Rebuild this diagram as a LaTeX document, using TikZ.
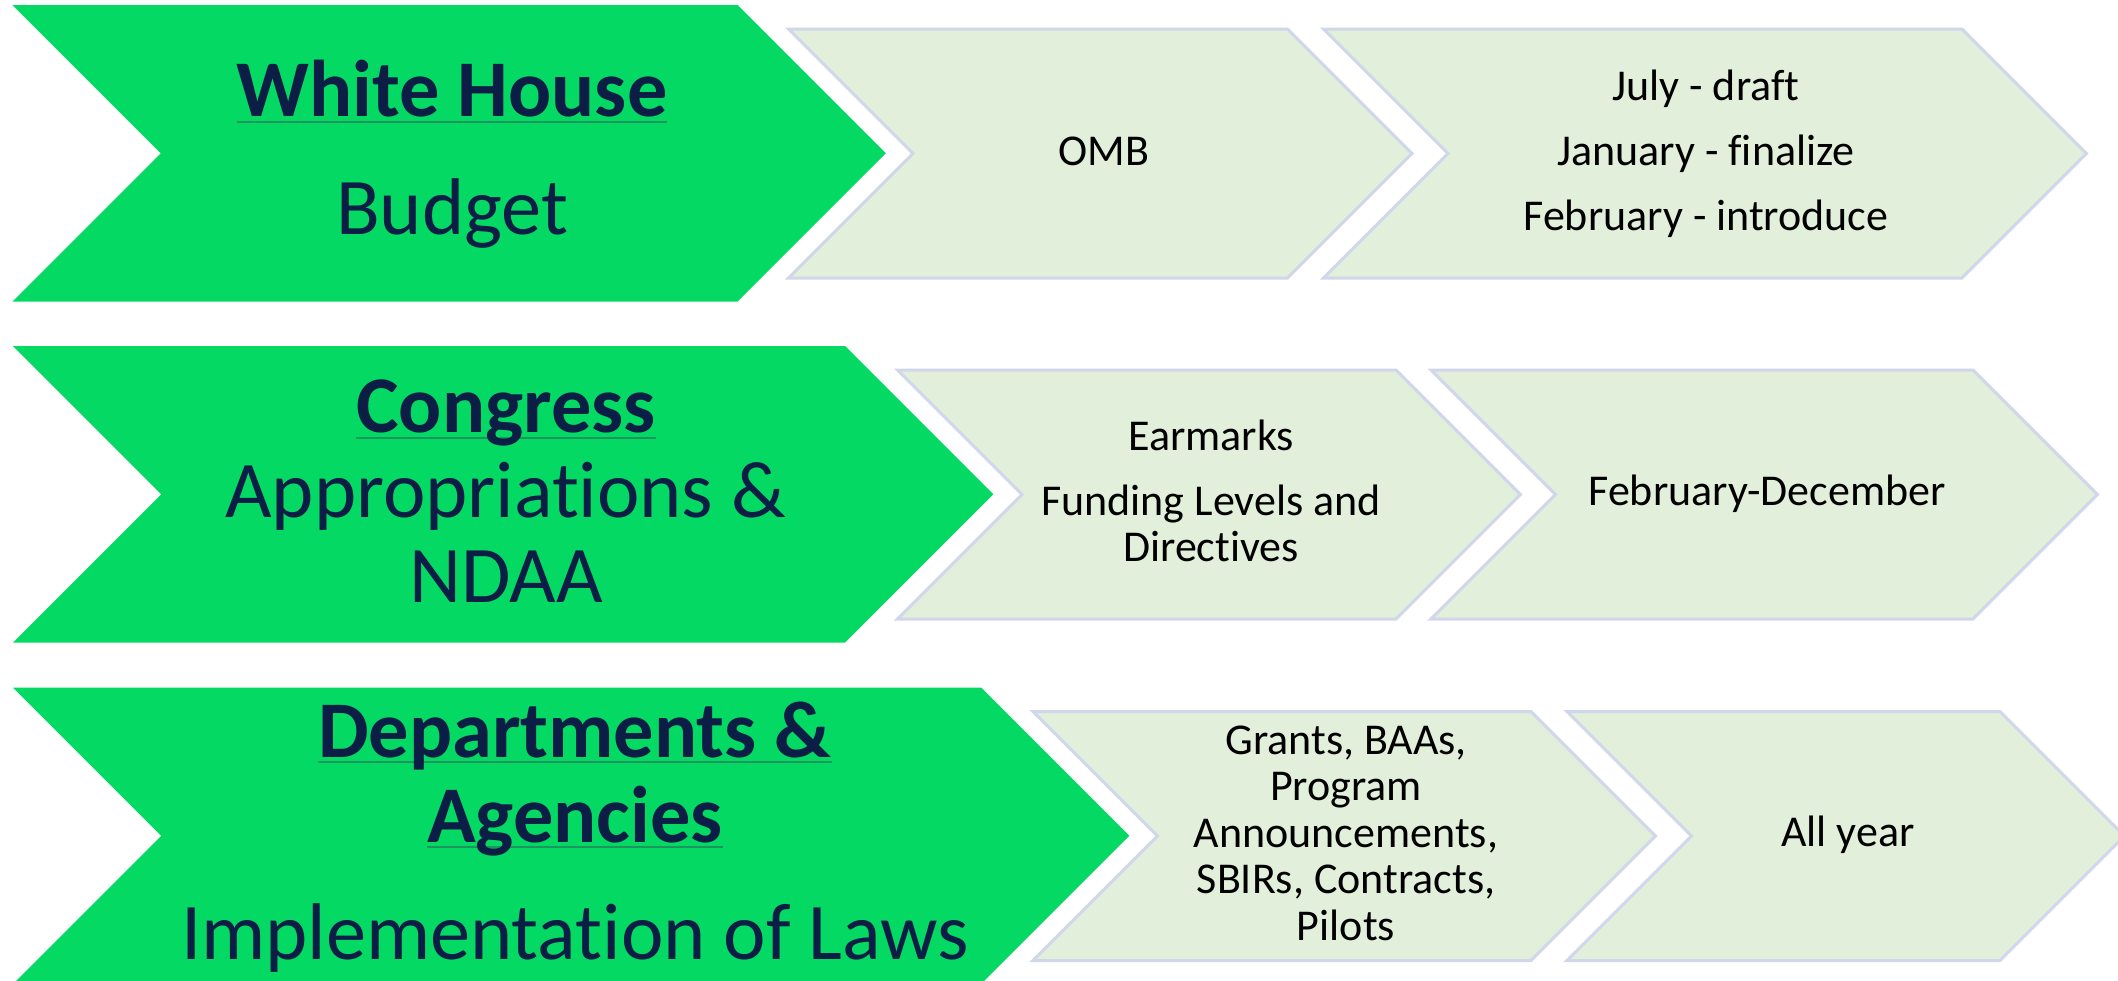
\documentclass[tikz,border=0pt]{standalone}
\usepackage{fontspec}
\setmainfont{Carlito}[Ligatures=NoCommon]
\definecolor{chgreen}{HTML}{04DA63}
\definecolor{boxfill}{HTML}{E2EFDA}
\definecolor{boxline}{HTML}{D0D7EA}
\definecolor{navy}{HTML}{0C1E45}
\definecolor{ulgreen}{HTML}{1E955C}
\newlength\ulwd
\newcommand\myul[1]{\settowidth\ulwd{#1}\rlap{\textcolor{ulgreen}{\rule[-3pt]{\ulwd}{1pt}}}#1}
% style, x left, x top-right, y top, y bottom
\newcommand\mychev[5]{%
  \pgfmathsetmacro\cd{(#5-#4)/2}%
  \pgfmathsetmacro\cm{(#5+#4)/2}%
  \path[#1] (#2,#4) -- (#3,#4) -- ({#3+\cd},\cm) -- (#3,#5) -- (#2,#5) -- ({#2+\cd},\cm) -- cycle;}
\begin{document}
\begin{tikzpicture}[x=0.5pt,y=-0.5pt,
  head/.style={align=center, text=navy, inner sep=0pt, font=\fontsize{40.2}{42.5}\selectfont},
  info/.style={align=center, text=black, inner sep=0pt, font=\fontsize{22}{23.25}\selectfont},
  lead/.style={fill=chgreen},
  stage/.style={fill=boxfill, draw=boxline, line width=1.5pt, line join=miter}]
\useasboundingbox (0,0) rectangle (2118,980);

% row 1
\mychev{lead}{12.5}{737.5}{5}{301.5}
\mychev{stage}{788.5}{1287.5}{29}{278}
\mychev{stage}{1323.5}{1962}{29}{278}
% row 2
\mychev{lead}{13}{845}{346}{642.5}
\mychev{stage}{897.5}{1396}{370}{619}
\mychev{stage}{1431}{1973}{370}{619}
% row 3
\mychev{lead}{13}{981}{687.5}{984}
\mychev{stage}{1033}{1531}{711.5}{960.5}
\mychev{stage}{1567}{2000}{711.5}{960.5}

% headings
\node[head] (wh) at (452,158.4) {\strut\textbf{\myul{White House}}\\[16.15pt]\strut Budget};
\node[head] (cg) at (506,500.5) {\strut\textbf{\myul{Congress}}\\\strut Appropriations \&\\\strut NDAA};
\node[head] (da) at (575,841.5) {\strut\textbf{\myul{Departments \&}}\\\strut\textbf{\myul{Agencies}}\\[16.15pt]\strut Implementation of Laws};

% info texts
\node[info] (omb) at (1104,155.7) {\strut OMB};
\node[info] (wht) at (1706,155.7) {\strut July - draft\\[9.25pt]\strut January - finalize\\[9.25pt]\strut February - introduce};
\node[info] (ear) at (1211,496.6) {\strut Earmarks\\[9.25pt]\strut Funding Levels and\\\strut Directives};
\node[info] (cgt) at (1767,496.4) {\strut February-December};
\node[info] (gra) at (1346,837.7) {\strut Grants, BAAs,\\\strut Program\\\strut Announcements,\\\strut SBIRs, Contracts,\\\strut Pilots};
\node[info] (ally) at (1848,837.4) {\strut All year};
\end{tikzpicture}
\end{document}
